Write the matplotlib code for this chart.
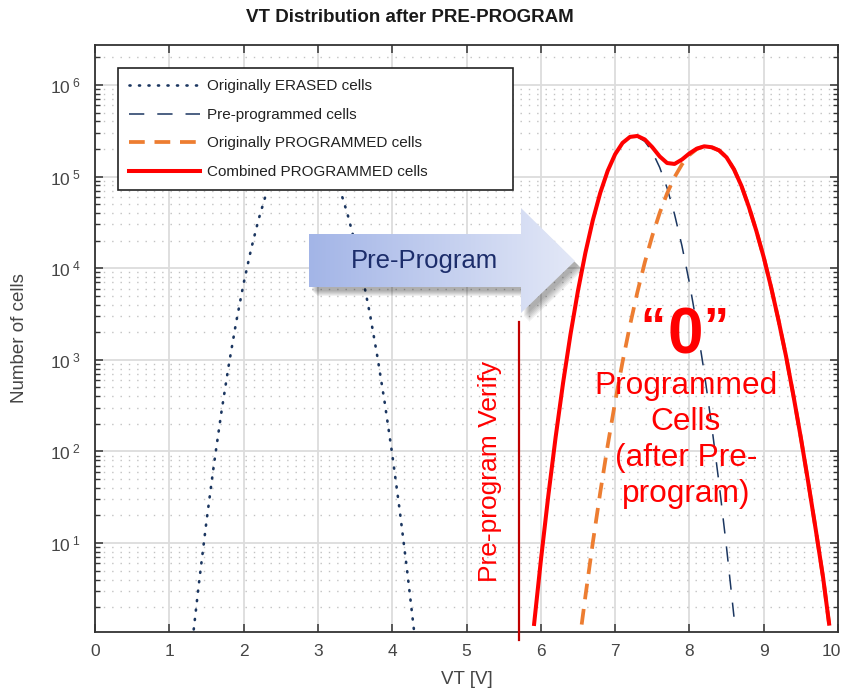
import numpy as np
import matplotlib
matplotlib.use('Agg')
import matplotlib.pyplot as plt
import matplotlib.transforms as mtransforms
from matplotlib.patches import Polygon
from matplotlib.colors import LinearSegmentedColormap
from matplotlib.ticker import FixedLocator, NullFormatter

plt.rcParams['font.family'] = ['Liberation Sans', 'DejaVu Sans']
plt.rcParams['mathtext.fontset'] = 'custom'
plt.rcParams['mathtext.rm'] = 'Liberation Sans'
plt.rcParams['mathtext.it'] = 'Liberation Sans:italic'
plt.rcParams['mathtext.bf'] = 'Liberation Sans:bold'

# ---------------- data ----------------
erased_vt = [1.3, 1.4, 1.5, 1.6, 1.7, 1.8, 1.9, 2.0, 2.1, 2.2, 2.3, 2.4, 2.5, 2.6, 2.7,
             2.8, 2.9, 3.0, 3.1, 3.2, 3.3, 3.4, 3.5, 3.6, 3.7, 3.8, 3.9, 4.0, 4.1, 4.2, 4.3]
erased_cells = [0.71, 3.7, 17.2, 71.3, 264, 873, 2580, 6810, 16000, 33700, 63500, 1.07e5,
                1.60e5, 2.15e5, 2.57e5, 2.75e5, 2.63e5, 2.25e5, 1.71e5, 1.17e5, 71100,
                38600, 18800, 8150, 3160, 1090, 338, 93.5, 23.1, 5.08, 1.0]

preprog_vt = [5.91, 6.0, 6.1, 6.2, 6.3, 6.4, 6.5, 6.6, 6.7, 6.8, 6.9, 7.0, 7.1, 7.2, 7.3,
              7.4, 7.5, 7.6, 7.7, 7.8, 7.9, 8.0, 8.1, 8.2, 8.3, 8.4, 8.5, 8.6]
preprog_cells = [1.31, 6.37, 32.4, 144, 561, 1905, 5660, 14700, 33400, 66400, 1.153e5,
                 1.75e5, 2.32e5, 2.69e5, 2.72e5, 2.42e5, 1.87e5, 1.26e5, 75000, 38800,
                 17500, 6930, 2400, 724, 191, 44.2, 8.9, 1.57]

origprog_vt = [6.55, 6.6, 6.7, 6.8, 6.9, 7.0, 7.1, 7.2, 7.3, 7.4, 7.5, 7.6, 7.7, 7.8, 7.9,
               8.0, 8.1, 8.2, 8.3, 8.4, 8.5, 8.6, 8.7, 8.8, 8.9, 9.0, 9.1, 9.2, 9.3, 9.4,
               9.5, 9.6, 9.7, 9.8, 9.88]
origprog_cells = [1.29, 2.62, 10.1, 35.7, 116, 346, 946, 2380, 5480, 11600, 22500, 40100,
                  65600, 98600, 1.36e5, 1.72e5, 2.00e5, 2.13e5, 2.09e5, 1.93e5, 1.62e5,
                  1.20e5, 79400, 46800, 25700, 13200, 6170, 2690, 1100, 407, 141, 45.7,
                  14.1, 4.17, 1.32]

combined_vt = [5.91, 6.0, 6.1, 6.2, 6.3, 6.4, 6.5, 6.6, 6.7, 6.8, 6.9, 7.0, 7.1, 7.2, 7.3,
               7.4, 7.5, 7.6, 7.7, 7.8, 7.9, 8.0, 8.1, 8.2, 8.3, 8.4, 8.5, 8.6, 8.7, 8.8,
               8.9, 9.0, 9.1, 9.2, 9.3, 9.4, 9.5, 9.6, 9.7, 9.8, 9.88]
combined_cells = [1.31, 6.37, 32.4, 144, 561, 1905, 5660, 14700, 33400, 66400, 1.153e5,
                  1.75e5, 2.33e5, 2.71e5, 2.775e5, 2.54e5, 2.095e5, 1.66e5, 1.406e5,
                  1.374e5, 1.535e5, 1.79e5, 2.02e5, 2.14e5, 2.09e5, 1.93e5, 1.62e5,
                  1.20e5, 79400, 46800, 25700, 13200, 6170, 2690, 1100, 407, 141, 45.7,
                  14.1, 4.17, 1.32]

verify_vt = 5.7
x_ticks = [0, 1, 2, 3, 4, 5, 6, 7, 8, 9, 10]
y_ticks = [1e1, 1e2, 1e3, 1e4, 1e5, 1e6]
y_tick_labels = [r'$\mathregular{10^{\ 1}}$', r'$\mathregular{10^{\ 2}}$',
                 r'$\mathregular{10^{\ 3}}$', r'$\mathregular{10^{\ 4}}$',
                 r'$\mathregular{10^{\ 5}}$', r'$\mathregular{10^{\ 6}}$']

legend_labels = ['Originally ERASED cells', 'Pre-programmed cells',
                 'Originally PROGRAMMED cells', 'Combined PROGRAMMED cells']

# ---------------- figure ----------------
W, H = 841, 696
fig = plt.figure(figsize=(W / 100, H / 100), dpi=100)
L, R, T, B = 95, 838, 45, 632
ax = fig.add_axes([L / W, 1 - B / H, (R - L) / W, (B - T) / H])

navy = '#1b3660'
orange = '#ed7d31'
red = '#ff0000'
tick_col = '#454545'

l1, = ax.plot(erased_vt, erased_cells, color=navy, lw=1.9, ls=(0, (0.4, 3.2)),
              dash_capstyle='round', zorder=3)
l2, = ax.plot(preprog_vt, preprog_cells, color=navy, lw=1.1, ls=(0, (10, 8.5)), zorder=3)
l3, = ax.plot(origprog_vt, origprog_cells, color=orange, lw=2.7, ls=(0, (4.2, 2.6)), zorder=4)
l4, = ax.plot(combined_vt, combined_cells, color=red, lw=2.9, zorder=5)

ax.axvline(verify_vt, ymin=-0.014, ymax=0.528, color='#c00000', lw=1.6, clip_on=False, zorder=6)

ax.set_yscale('log')
ax.set_xlim(0, 10)
ax.set_ylim(1.07, 2.73e6)
ax.xaxis.set_major_locator(FixedLocator(x_ticks))
ax.yaxis.set_major_locator(FixedLocator(y_ticks))
ax.set_yticklabels(y_tick_labels)
ax.set_xticklabels([str(v) for v in x_ticks])
minor = [m * 10 ** e for e in range(0, 7) for m in range(2, 10)]
ax.yaxis.set_minor_locator(FixedLocator(minor))
ax.yaxis.set_minor_formatter(NullFormatter())

ax.tick_params(which='both', direction='in', top=True, right=True, colors='#333333',
               labelcolor=tick_col, labelsize=12.5)
ax.tick_params(which='major', length=6, width=1.1)
ax.tick_params(which='minor', length=3.5, width=1.0)
ax.tick_params(axis='y', pad=10)
ax.tick_params(axis='x', pad=9)
for s in ax.spines.values():
    s.set_color('#333333')
    s.set_linewidth(1.3)

# keep the last x tick label ("10") inside the picture
last = ax.get_xticklabels()[-1]
last.set_transform(last.get_transform() + mtransforms.ScaledTranslation(-7 / 100, 0, fig.dpi_scale_trans))

ax.grid(True, which='major', axis='both', color='#dcdcdc', lw=1.3, ls='-', zorder=0)
ax.grid(True, which='minor', axis='y', color='#c2c2c2', lw=1.0, ls=(0, (1, 5)), zorder=0)
ax.set_axisbelow(True)

ax.set_xlabel('VT [V]', fontsize=13.5, color=tick_col, labelpad=8)
ax.set_ylabel('Number of cells', fontsize=13.5, color=tick_col, labelpad=16)

leg = ax.legend([l1, l2, l3, l4], legend_labels, loc='upper left',
                bbox_to_anchor=(0.031, 0.5, 0.5316, 0.461), mode='expand',
                borderaxespad=0, fontsize=11, handlelength=4.6, handletextpad=0.45,
                labelspacing=0.95, borderpad=0.75, fancybox=False, framealpha=1,
                edgecolor='#222222')
leg.get_frame().set_linewidth(1.2)
for t in leg.get_texts():
    t.set_color('#222222')

fig.text(410 / W, 1 - 18 / H, 'VT Distribution after PRE-PROGRAM', ha='center', va='center',
         fontsize=13.5, fontweight='bold', color='#1a1a1a')

# ---------------- overlay in pixel coordinates ----------------
ov = fig.add_axes([0, 0, 1, 1], zorder=10)
ov.patch.set_alpha(0)
ov.axis('off')

arrow_pts = [(309, 234), (521, 234), (521, 208), (575, 261), (521, 313), (521, 287), (309, 287)]
for k, (dx, dy) in enumerate([(8, 9), (7, 8), (6, 7), (5, 6), (4, 5), (3, 4)]):
    ov.add_patch(Polygon([(x + dx, y + dy) for x, y in arrow_pts], closed=True,
                         facecolor='#000000', edgecolor='none', alpha=0.06, zorder=2))
poly = Polygon(arrow_pts, closed=True, facecolor='none', edgecolor='none', zorder=3)
ov.add_patch(poly)
cmap = LinearSegmentedColormap.from_list('g', ['#a3b5e7', '#e3e8f7'])
grad = np.linspace(0, 1, 256).reshape(1, -1)
im = ov.imshow(grad, extent=(309, 575, 313, 208), cmap=cmap, aspect='auto', zorder=3,
               interpolation='bilinear')
im.set_clip_path(poly)
ov.text(425, 261, 'Pre-Program', ha='center', va='center', fontsize=18.5, color='#1c2d6b', zorder=4)

ov.text(490, 471, 'Pre-program Verify', rotation=90, ha='center', va='center',
        fontsize=19, color=red, zorder=4)

ov.text(685, 353, '0', ha='center', va='baseline', fontsize=46, fontweight='bold', color=red)
ov.text(665, 343, '\u201c', ha='right', va='baseline', fontsize=36, fontweight='bold', color=red)
ov.text(703, 343, '\u201d', ha='left', va='baseline', fontsize=36, fontweight='bold', color=red)

ov.text(686, 440, 'Programmed\nCells\n(after Pre-\nprogram)', ha='center', va='center',
        fontsize=22.8, color=red, linespacing=1.25, multialignment='center')

ov.set_xlim(0, W)
ov.set_ylim(H, 0)

fig.savefig('out.png', dpi=100)
